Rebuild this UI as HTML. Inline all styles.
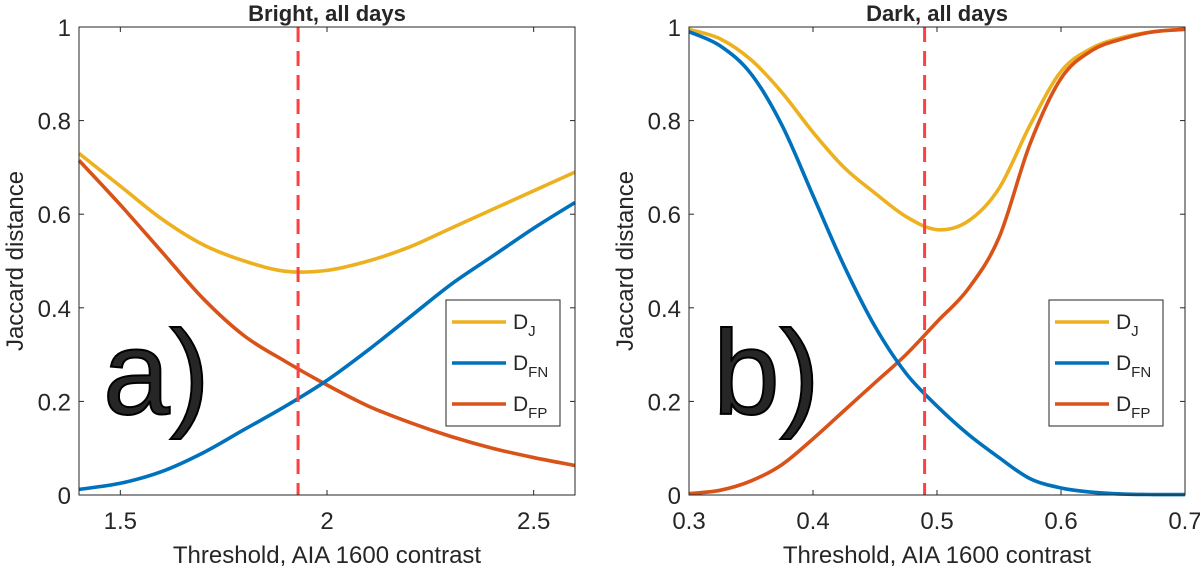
<!DOCTYPE html>
<html><head><meta charset="utf-8"><style>
body{margin:0;background:#fff;width:1200px;height:569px;overflow:hidden}
svg text{font-family:"Liberation Sans",sans-serif;fill:#262626}
</style></head><body>
<svg id="chart" width="1200" height="569"></svg>
<script>
const leftX=[1.4,1.5,1.6,1.7,1.8,1.9,2.0,2.1,2.2,2.3,2.4,2.5,2.6];
const leftDJ=[0.73,0.66,0.59,0.535,0.50,0.478,0.48,0.50,0.53,0.57,0.61,0.65,0.69];
const leftDFN=[0.012,0.025,0.05,0.09,0.14,0.19,0.245,0.31,0.38,0.45,0.51,0.57,0.625];
const leftDFP=[0.715,0.62,0.52,0.42,0.34,0.285,0.235,0.19,0.155,0.125,0.10,0.08,0.063];
const rightX=[0.3,0.325,0.35,0.375,0.4,0.425,0.45,0.475,0.5,0.525,0.55,0.575,0.6,0.625,0.65,0.675,0.7];
const rightDJ=[0.995,0.975,0.93,0.86,0.775,0.70,0.645,0.595,0.567,0.585,0.655,0.79,0.905,0.955,0.978,0.99,0.995];
const rightDFN=[0.99,0.96,0.90,0.79,0.64,0.49,0.36,0.26,0.19,0.13,0.08,0.035,0.015,0.006,0.002,0.001,0.001];
const rightDFP=[0.003,0.01,0.03,0.065,0.12,0.18,0.24,0.30,0.37,0.44,0.55,0.75,0.89,0.95,0.975,0.99,0.995];
const leftTicks=[1.5,2,2.5];
const rightTicks=[0.3,0.4,0.5,0.6,0.7];
const yTicks=[0,0.2,0.4,0.6,0.8,1];
const leftThreshold=1.93, rightThreshold=0.49;

const NS="http://www.w3.org/2000/svg";
const svg=document.getElementById('chart');
function el(tag,attrs,parent){const e=document.createElementNS(NS,tag);for(const k in attrs)e.setAttribute(k,attrs[k]);(parent||svg).appendChild(e);return e;}
function smooth(pts){let d=`M${pts[0][0]},${pts[0][1]}`;for(let i=0;i<pts.length-1;i++){const p0=pts[Math.max(0,i-1)],p1=pts[i],p2=pts[i+1],p3=pts[Math.min(pts.length-1,i+2)];d+=` C${p1[0]+(p2[0]-p0[0])/6},${p1[1]+(p2[1]-p0[1])/6} ${p2[0]-(p3[0]-p1[0])/6},${p2[1]-(p3[1]-p1[1])/6} ${p2[0]},${p2[1]}`;}return d;}
const colors={DJ:'#EDB120',DFN:'#0072BD',DFP:'#D95319'};

function panel(opt){
 const L=opt.L,R=opt.R,T=27,B=495;
 const sx=v=>L+(v-opt.xmin)/(opt.xmax-opt.xmin)*(R-L);
 const sy=v=>B-v*(B-T);
 const g=el('g',{});
 
 
 const t=el('text',{x:(L+R)/2,y:21,'text-anchor':'middle','font-size':'22','font-weight':'bold',fill:'#000'},g);t.textContent=opt.title;
 
 yTicks.forEach(v=>{
  el('line',{x1:L,x2:L+5,y1:sy(v),y2:sy(v),stroke:'#262626'},g);
  el('line',{x1:R,x2:R-5,y1:sy(v),y2:sy(v),stroke:'#262626'},g);
  const tx=el('text',{x:L-8,y:sy(v)+9,'text-anchor':'end','font-size':'24'},g);tx.textContent=String(v);
  
 });
 opt.ticks.forEach(v=>{
  el('line',{x1:sx(v),x2:sx(v),y1:B,y2:B-5,stroke:'#262626'},g);
  el('line',{x1:sx(v),x2:sx(v),y1:T,y2:T+5,stroke:'#262626'},g);
  const tx=el('text',{x:sx(v),y:B+34,'text-anchor':'middle','font-size':'24'},g);tx.textContent=String(v);
  
 });
 const xl=el('text',{x:(L+R)/2,y:563,'text-anchor':'middle','font-size':'24'},g);xl.textContent='Threshold, AIA 1600 contrast';
 
 const yl=el('text',{x:0,y:0,'text-anchor':'middle','font-size':'24',transform:`translate(${L-56},${(T+B)/2}) rotate(-90)`},g);yl.textContent='Jaccard distance';
 
 const big=el('text',{x:L+24,y:414,'font-size':'120',fill:'#000',stroke:'#000','stroke-width':'2'},g);big.textContent=opt.label;
 
 [['DJ',opt.dj],['DFP',opt.dfp],['DFN',opt.dfn]].forEach(([k,arr])=>{
  const p=el('path',{d:smooth(opt.x.map((x,i)=>[sx(x),sy(arr[i])])),fill:'none',stroke:colors[k],'stroke-width':'3.6'},g);
  
  
 });
 const dl=el('line',{x1:sx(opt.th),x2:sx(opt.th),y1:T,y2:B,stroke:'#FF4040','stroke-width':'3','stroke-dasharray':'15,9'},g);
 
 el('rect',{x:L,y:T,width:R-L,height:B-T,fill:'none',stroke:'#262626','stroke-width':'1'},g);
 const lg=el('g',{},g);
 
 const lx=opt.lgx;
 el('rect',{x:lx,y:300,width:114,height:126,fill:'#fff',stroke:'#262626'},lg);
 [['DJ','J'],['DFN','FN'],['DFP','FP']].forEach(([k,s],i)=>{
  const yy=322+i*41;
  el('line',{x1:lx+6,x2:lx+60,y1:yy,y2:yy,stroke:colors[k],'stroke-width':'3.6'},lg);
  const tx=el('text',{x:lx+67,y:yy+7,'font-size':'21'},lg);
  
  tx.textContent='D';
  const ts=el('tspan',{'font-size':'15',dy:'7'},tx);ts.textContent=s;
 });
}
panel({name:'panel-a',L:79,R:575,xmin:1.4,xmax:2.6,ticks:leftTicks,x:leftX,dj:leftDJ,dfn:leftDFN,dfp:leftDFP,th:leftThreshold,title:'Bright, all days',label:'a)',lgx:446});
panel({name:'panel-b',L:689,R:1185,xmin:0.3,xmax:0.7,ticks:rightTicks,x:rightX,dj:rightDJ,dfn:rightDFN,dfp:rightDFP,th:rightThreshold,title:'Dark, all days',label:'b)',lgx:1049});
</script>
</body></html>
